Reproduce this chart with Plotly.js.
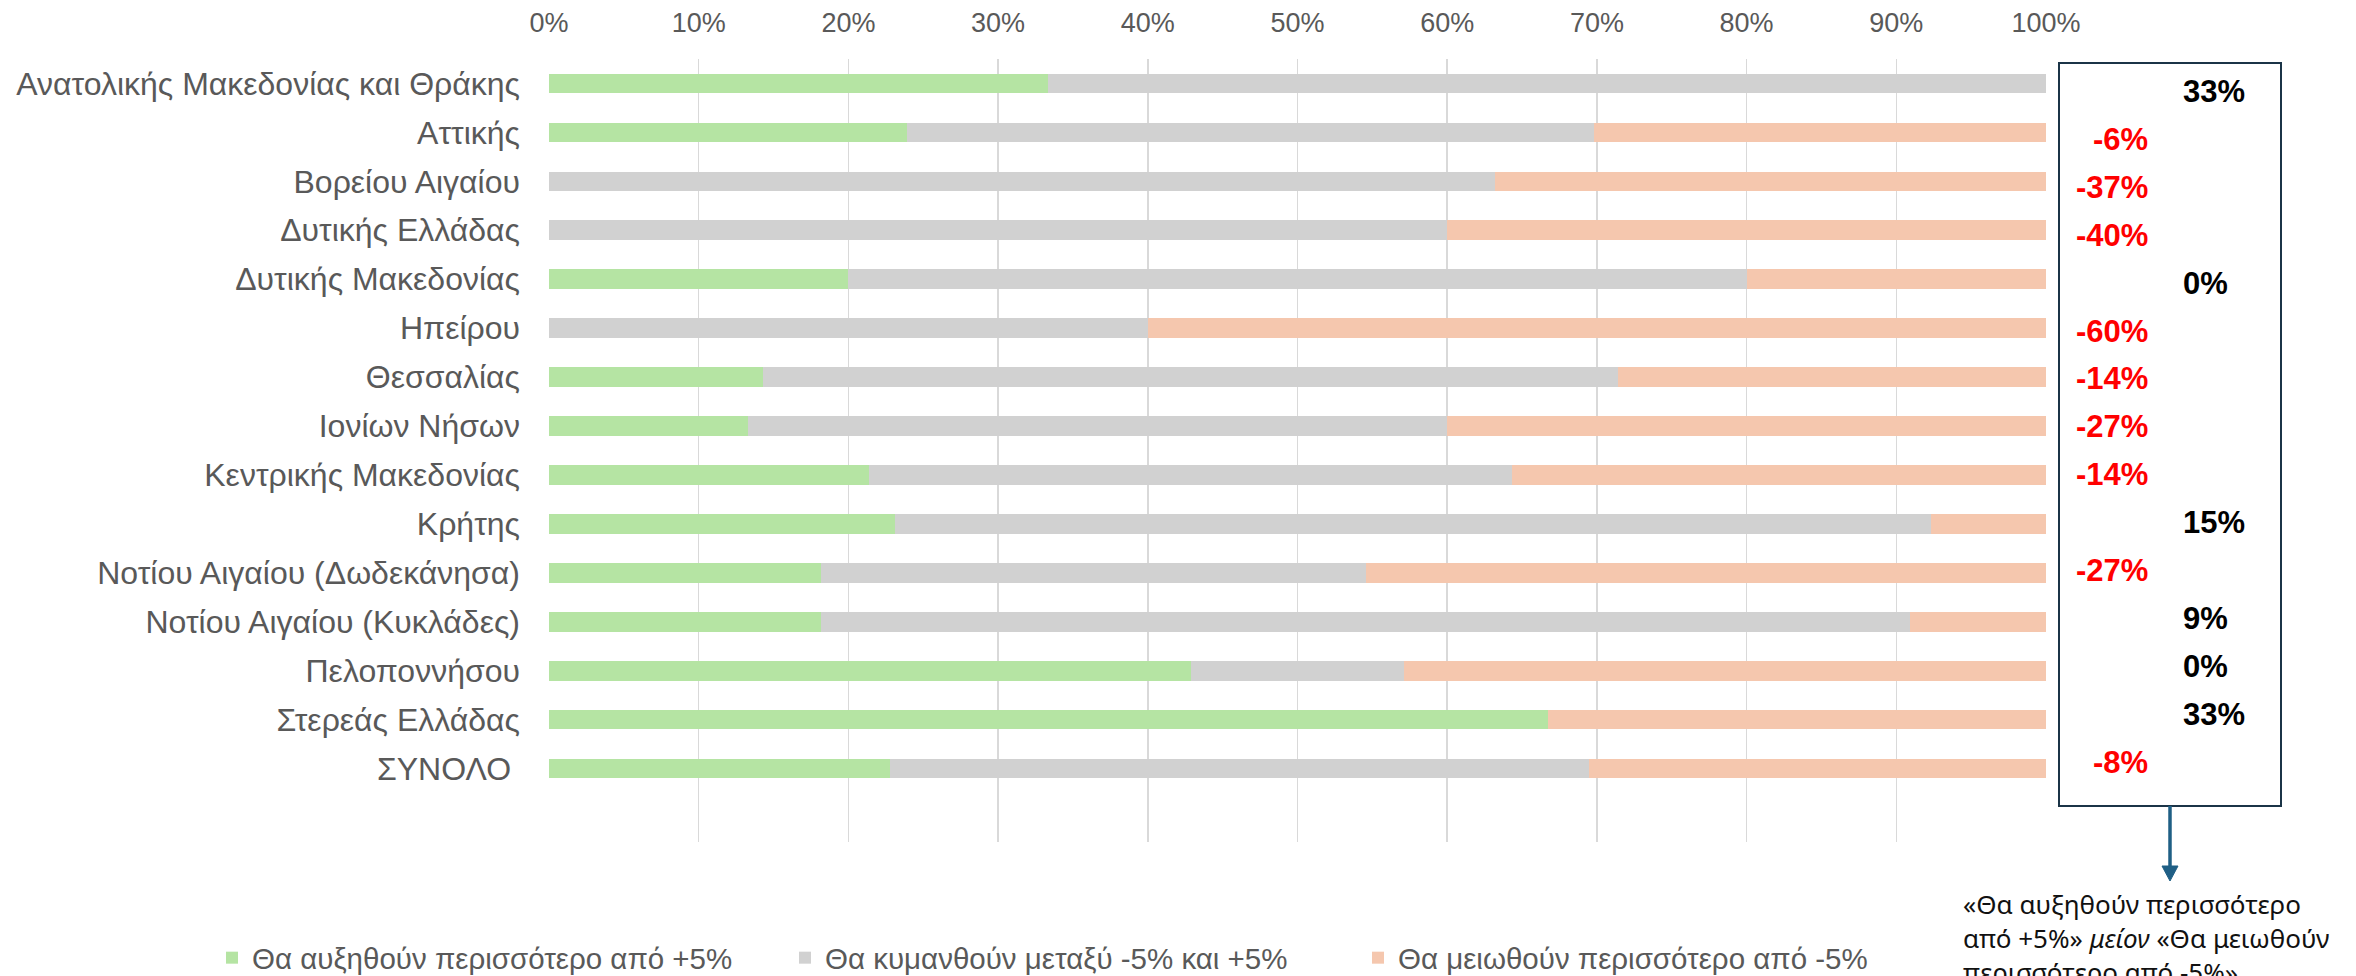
<!DOCTYPE html>
<html>
<head>
<meta charset="utf-8">
<script src="https://cdn.plot.ly/plotly-3.0.1.min.js"></script>
<style>
html,body{margin:0;padding:0;background:#fff;overflow:hidden;}
#chart{width:2356px;height:976px;}
</style>
</head>
<body>
<div id="chart"></div>
<script>
// ---- data ----
const regions = [
  "Ανατολικής Μακεδονίας και Θράκης",
  "Αττικής",
  "Βορείου Αιγαίου",
  "Δυτικής Ελλάδας",
  "Δυτικής Μακεδονίας",
  "Ηπείρου",
  "Θεσσαλίας",
  "Ιονίων Νήσων",
  "Κεντρικής Μακεδονίας",
  "Κρήτης",
  "Νοτίου Αιγαίου (Δωδεκάνησα)",
  "Νοτίου Αιγαίου (Κυκλάδες)",
  "Πελοποννήσου",
  "Στερεάς Ελλάδας",
  "ΣΥΝΟΛΟ\u00a0"
];
const increase = [0.333, 0.239, 0.000, 0.000, 0.200, 0.000, 0.143, 0.133, 0.214, 0.231, 0.182, 0.182, 0.429, 0.667, 0.228];
const stable   = [0.667, 0.459, 0.632, 0.600, 0.600, 0.400, 0.571, 0.467, 0.429, 0.692, 0.364, 0.727, 0.142, 0.000, 0.467];
const decrease = [0.000, 0.302, 0.368, 0.400, 0.200, 0.600, 0.286, 0.400, 0.357, 0.077, 0.455, 0.091, 0.429, 0.333, 0.305];
const netLabels = ["33%", "-6%", "-37%", "-40%", "0%", "-60%", "-14%", "-27%", "-14%", "15%", "-27%", "9%", "0%", "33%", "-8%"];
const seriesNames = [
  "Θα αυξηθούν περισσότερο από +5%",
  "Θα κυμανθούν μεταξύ -5% και +5%",
  "Θα μειωθούν περισσότερο από -5%"
];
const noteText = "«Θα αυξηθούν περισσότερο<br>από +5%» <i>μείον</i> «Θα μειωθούν<br>περισσότερο από -5%»";

// ---- styling ----
const colors = ["#b5e4a3", "#d1d1d1", "#f5c7ae"];
const FONT = "'Liberation Sans', Arial, sans-serif";
const GREY = "#595959";

const seriesVals = [increase, stable, decrease];

const traces = seriesVals.map((vals, i) => ({
  type: "bar",
  orientation: "h",
  name: seriesNames[i],
  y: regions,
  x: vals,
  marker: {color: colors[i]},
  hoverinfo: "x+y+name"
}));

const W = 2356, H = 976;
const L = 549, R = 2046, T = 59, B = 842;
const px = v => (v - L) / (R - L);
const py = v => (B - v) / (B - T);

// net-balance text box: its own line pitch (slightly tighter than the bar rows)
const boxFirstY = 91.5, boxPitch = 47.9;
const annotations = netLabels.map((lab, i) => {
  const neg = lab.startsWith("-");
  return {
    xref: "paper", yref: "paper",
    x: neg ? px(2150) : px(2181),
    y: py(boxFirstY + i * boxPitch),
    xanchor: neg ? "right" : "left",
    yanchor: "middle",
    text: "<b>" + lab + "</b>",
    showarrow: false,
    font: {family: FONT, size: 31, color: neg ? "#ff0000" : "#000000"}
  };
});

annotations.push({
  xref: "paper", yref: "paper",
  x: px(1961), y: py(884),
  xanchor: "left", yanchor: "top",
  align: "left",
  text: noteText,
  showarrow: false,
  font: {family: "'Noto Sans', 'Open Sans', sans-serif", size: 26, color: "#111111"}
});

const arrowX = px(2170);
const shapes = [
  {type: "rect", xref: "paper", yref: "paper",
   x0: px(2059), x1: px(2281), y0: py(806), y1: py(63),
   line: {color: "#1b3447", width: 2}, fillcolor: "rgba(0,0,0,0)"},
  {type: "line", xref: "paper", yref: "paper",
   x0: arrowX, x1: arrowX, y0: py(806), y1: py(868),
   line: {color: "#1f5f85", width: 3.5}},
  {type: "path", xref: "paper", yref: "paper",
   path: `M ${px(2162)} ${py(866)} L ${px(2178)} ${py(866)} L ${px(2170)} ${py(881)} Z`,
   fillcolor: "#1f5f85", line: {color: "#1f5f85", width: 1}}
];

const layout = {
  width: W, height: H,
  margin: {l: L, r: W - R, t: T, b: H - B, pad: 0, autoexpand: false},
  paper_bgcolor: "#ffffff",
  plot_bgcolor: "#ffffff",
  barmode: "stack",
  bargap: 0.6,
  showlegend: true,
  font: {family: FONT, color: GREY, size: 26},
  xaxis: {
    side: "top",
    range: [0, 1],
    dtick: 0.1,
    tick0: 0,
    tickformat: ".0%",
    showgrid: true,
    gridcolor: "#d9d9d9",
    gridwidth: 1.5,
    zeroline: false,
    showline: false,
    ticks: "",
    ticklabelstandoff: 21,
    tickfont: {family: FONT, size: 27, color: GREY},
    automargin: false,
    fixedrange: true
  },
  yaxis: {
    type: "category",
    categoryorder: "array",
    categoryarray: regions,
    range: [15.5, -0.5],
    showgrid: false,
    zeroline: false,
    showline: false,
    ticks: "",
    ticklabelstandoff: 28,
    tickfont: {family: FONT, size: 32, color: GREY},
    automargin: false,
    fixedrange: true
  },
  legend: {
    orientation: "h",
    x: px(212), xanchor: "left",
    y: py(958), yanchor: "middle",
    font: {family: FONT, size: 29.5, color: GREY},
    traceorder: "normal",
    entrywidth: 528,
    itemclick: false, itemdoubleclick: false
  },
  annotations: annotations,
  shapes: shapes
};

Plotly.newPlot("chart", traces, layout, {displayModeBar: false, staticPlot: true});
</script>
</body>
</html>
